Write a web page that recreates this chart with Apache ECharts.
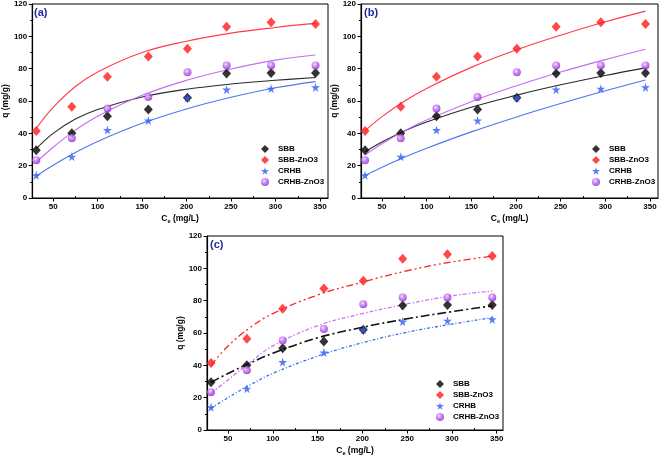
<!DOCTYPE html>
<html><head><meta charset="utf-8">
<script src="https://cdn.jsdelivr.net/npm/echarts@6/dist/echarts.min.js"></script>
<style>html,body{margin:0;padding:0;background:#fff}#c{width:661px;height:463px}</style>
</head><body><div id="c"></div>
<script>
// Measured data (Ce in mg/L, q in mg/g)
const xVals = [31, 71, 111, 157, 201, 245, 295, 345];
const sbb = [29.5, 40, 50.5, 54.8, 62, 77, 77.3, 77.3];
const sbbZnO3 = [41.5, 56.5, 75, 87.5, 92.3, 106, 108.7, 107.6];
const crhb = [14, 25.5, 42, 47.9, 62, 67, 67.6, 68.4];
const crhbZnO3 = [23.4, 37, 55.3, 62.4, 77.8, 82, 82, 82];

// Fitted curves
const fitX = [31, 50, 75, 100, 150, 200, 250, 300, 345];
const sbbFitA = [30.5, 40, 48.8, 54.8, 62.5, 67.3, 70.5, 72.8, 74.5];
const sbbZnO3FitA = [43, 56, 69, 78, 90, 97, 102, 105.5, 108];
const crhbFitA = [13.5, 20.2, 28.1, 35, 46.2, 55.1, 62.3, 68.2, 72];
const crhbZnO3FitA = [22, 31.4, 42, 50.6, 63.5, 72.8, 79.8, 85.3, 88.5];

const sbbFitB = [28.6, 34.7, 41.5, 47, 56.1, 63.5, 70, 75.8, 80.5];
const sbbZnO3FitB = [41.5, 50.3, 59.9, 67.8, 80.8, 91.5, 100.7, 109, 115.6];
const crhbFitB = [13.9, 19, 25.2, 30.8, 40.9, 50, 58.4, 66.3, 73];
const crhbZnO3FitB = [26.6, 33.6, 41.5, 48.2, 59.6, 69.3, 77.9, 85.6, 92];

const sbbFitC = [29.5, 35, 41.5, 47.5, 57, 63.5, 68.8, 73.2, 76.8];
const sbbZnO3FitC = [40, 52, 63.5, 72, 83.5, 91.5, 98.5, 104, 107.5];
const crhbFitC = [13.5, 20, 28, 35, 45.7, 54, 60.5, 65.5, 69.5];
const crhbZnO3FitC = [22.8, 31, 42, 52, 64.5, 72, 78, 83, 86];

const xMajor = [50, 100, 150, 200, 250, 300, 350];
const xMinor = [75, 125, 175, 225, 275, 325];
const panelLabels = ['(a)', '(b)', '(c)'];
const names = ['SBB', 'SBB-ZnO3', 'CRHB', 'CRHB-ZnO3'];

const FONT = 'Liberation Sans';
const grids = [
  {left: 31, top: 4, width: 297, height: 194},
  {left: 361, top: 4, width: 297, height: 194},
  {left: 207, top: 236, width: 296, height: 194}
];
const xRanges = [[26.5, 359], [26.5, 359], [26.5, 357]];
const legendPos = [{left: 256, top: 140}, {left: 587, top: 140}, {left: 431, top: 375}];
const titlePos = [{left: 34, top: 7}, {left: 364, top: 7}, {left: 210, top: 239}];

const scatterData = [sbb, sbbZnO3, crhb, crhbZnO3];
const fits = [
  [sbbFitA, sbbZnO3FitA, crhbFitA, crhbZnO3FitA],
  [sbbFitB, sbbZnO3FitB, crhbFitB, crhbZnO3FitB],
  [sbbFitC, sbbZnO3FitC, crhbFitC, crhbZnO3FitC]
];
const lineColors = ['#2a2a2a', '#ff3b4a', '#4a78f0', '#c46cf2'];
const lineColorsC = ['#111111', '#ff2020', '#3a6cf0', '#cc77f5'];
const dashC = [[9, 3, 2, 3], [7, 3, 2, 3, 2, 3], [3, 2, 1, 2], [4, 2, 1.5, 2]];

const purpleGrad = {type: 'radial', x: 0.4, y: 0.35, r: 0.6,
  colorStops: [{offset: 0, color: '#f4d8ff'}, {offset: 0.5, color: '#c06ff0'}, {offset: 1, color: '#9a30d8'}]};
const markerStyles = [
  {symbol: 'diamond', size: [9, 10], color: '#000000'},
  {symbol: 'diamond', size: [9, 10], color: '#ff1a1a'},
  {symbol: 'path://M50,0 L61,35 L98,35 L68,57 L79,92 L50,70 L21,92 L32,57 L2,35 L39,35 Z', size: 9, color: '#2f5cf5'},
  {symbol: 'circle', size: 8, color: purpleGrad}
];

const xAxes = [], yAxes = [], series = [], legends = [], titles = [];
const axisLineStyle = {color: '#000', width: 1.2};
const labelStyle = {color: '#000', fontFamily: FONT, fontWeight: 'bold', fontSize: 8};

for (let p = 0; p < 3; p++) {
  xAxes.push({
    type: 'value', gridIndex: p, min: xRanges[p][0], max: xRanges[p][1],
    name: '{c|C}{s|e}{c| (mg/L)}', nameLocation: 'middle', nameGap: 15,
    nameTextStyle: {rich: {
      c: {fontFamily: FONT, fontWeight: 'bold', fontSize: 8.5, color: '#000'},
      s: {fontFamily: FONT, fontWeight: 'bold', fontSize: 5.5, color: '#000', padding: [5, 0, 0, 0]}
    }},
    axisLine: {show: true, onZero: false, lineStyle: axisLineStyle},
    axisTick: {show: true, inside: false, length: 3.5, customValues: xMajor, lineStyle: {color: '#000'}},
    axisLabel: Object.assign({customValues: xMajor, margin: 5}, labelStyle),
    splitLine: {show: false}
  });
  yAxes.push({
    type: 'value', gridIndex: p, min: 0, max: 120, interval: 20,
    name: 'q (mg/g)', nameLocation: 'middle', nameGap: 19,
    nameTextStyle: {fontFamily: FONT, fontWeight: 'bold', fontSize: 8.5, color: '#000'},
    axisLine: {show: true, onZero: false, lineStyle: axisLineStyle},
    axisTick: {show: true, inside: false, length: 3.5, lineStyle: {color: '#000'}},
    minorTick: {show: true, splitNumber: 2, length: 2, lineStyle: {color: '#000'}},
    axisLabel: Object.assign({margin: 5}, labelStyle),
    splitLine: {show: false}
  });
}
for (let p = 0; p < 3; p++) {
  xAxes.push({
    type: 'value', gridIndex: p, min: xRanges[p][0], max: xRanges[p][1],
    axisLine: {show: false},
    axisTick: {show: true, inside: false, length: 2, customValues: xMinor, lineStyle: {color: '#000'}},
    axisLabel: {show: false}, splitLine: {show: false}
  });
}

for (let p = 0; p < 3; p++) {
  for (let k = 0; k < 4; k++) {
    const isC = p === 2;
    series.push({
      type: 'line', name: names[k] + ' fit ' + p, xAxisIndex: p, yAxisIndex: p,
      data: fitX.map((x, i) => [x, fits[p][k][i]]),
      smooth: 0.4, showSymbol: false, symbol: 'none', z: 2, silent: true,
      lineStyle: isC ? {color: lineColorsC[k], width: k === 0 ? 1.6 : 1.3, type: dashC[k]}
                     : {color: lineColors[k], width: 1.1}
    });
  }
}
for (let p = 0; p < 3; p++) {
  for (let k = 0; k < 4; k++) {
    const m = markerStyles[k];
    series.push({
      type: 'scatter', name: names[k], xAxisIndex: p, yAxisIndex: p,
      data: xVals.map((x, i) => [x, scatterData[k][i]]),
      symbol: m.symbol, symbolSize: m.size, z: 5,
      itemStyle: {color: m.color}
    });
  }
  legends.push({
    data: names.map(n => ({name: n})), orient: 'vertical',
    left: legendPos[p].left, top: legendPos[p].top,
    itemWidth: 8, itemHeight: 8, itemGap: 3, selectedMode: false,
    textStyle: {fontFamily: FONT, fontWeight: 'bold', fontSize: 8, color: '#000', padding: [0, 0, 0, 4]}
  });
  titles.push({
    text: panelLabels[p], left: titlePos[p].left, top: titlePos[p].top, padding: 0,
    textStyle: {fontFamily: FONT, fontWeight: 'bold', fontSize: 11, color: '#1f2a9e'}
  });
}

const chart = echarts.init(document.getElementById('c'), null, {renderer: 'canvas'});
chart.setOption({
  animation: false,
  backgroundColor: '#fff',
  title: titles,
  legend: legends,
  grid: grids.map(g => Object.assign({show: true, borderColor: '#000', borderWidth: 1, backgroundColor: 'transparent'}, g)),
  xAxis: xAxes,
  yAxis: yAxes,
  series: series
});
</script></body></html>
